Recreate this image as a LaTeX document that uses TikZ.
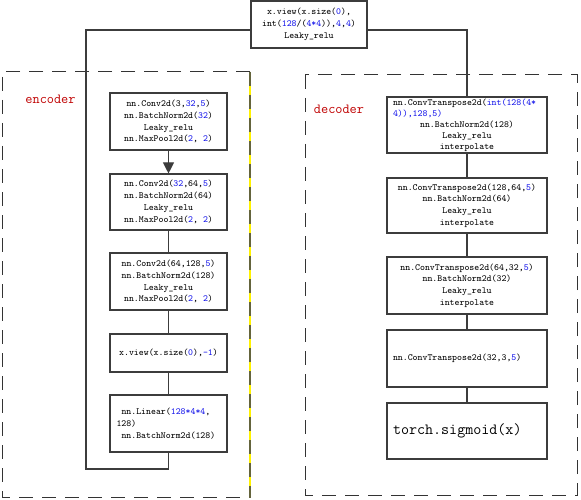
\documentclass[tikz,border=0pt]{standalone}
\usepackage{fontspec}
\usetikzlibrary{arrows.meta}
\definecolor{numblue}{RGB}{20,20,235}
\definecolor{labred}{RGB}{192,0,0}
\definecolor{edge}{RGB}{60,60,60}
\definecolor{dashol}{RGB}{100,100,60}
\newcommand\bn[1]{\textcolor{numblue}{#1}}
\begin{document}
\begin{tikzpicture}[x=1pt,y=-1pt,
  box/.style={draw=edge, line width=1.1pt, fill=white, inner sep=0pt, align=center,
    font=\ttfamily\fontsize{9.4}{11.8}\selectfont, minimum width=117pt},
  dbox/.style={box, minimum width=160pt},
  conn/.style={draw=edge, line width=1.1pt},
  dashline/.style={draw=black!80, line width=1pt, dash pattern=on 14pt off 9pt},
  lab/.style={text=labred, font=\ttfamily\fontsize{13.9}{16}\selectfont, inner sep=0pt}]
\useasboundingbox (0,0) rectangle (581,500);
\fill[white] (0,0) rectangle (581,500);

% group frames
\draw[dashline] (250,72) -- (2,72) -- (2,497) -- (250,497);
\draw[yellow, line width=1.2pt] (250,72) -- (250,498);
\draw[dashol, line width=1.2pt, dash pattern=on 14pt off 9pt] (250,72) -- (250,498);
\draw[dashline] (305,75) rectangle (577,495);

\node[lab] (enc) at (50.5,99) {encoder};
\node[lab] (dec) at (339,109) {decoder};

% connector coordinates
\coordinate (tl) at (251,30);
\coordinate (tr) at (367,30);
\coordinate (bl) at (86,469);

% top node
\node[box, minimum width=116pt, minimum height=47pt] (top) at (309,24.5)
  {x.view(x.size(\bn{0}),\\ int(\bn{128}/(\bn{4*4})),\bn{4},\bn{4})\\ Leaky\_relu};

% encoder
\node[box, minimum height=57pt] (e1) at (168.5,121.5)
  {nn.Conv2d(3,\bn{32},\bn{5})\\ nn.BatchNorm2d(\bn{32})\\ Leaky\_relu\\ nn.MaxPool2d(\bn{2},\ \bn{2})};
\node[box, minimum height=56pt] (e2) at (168.5,202)
  {nn.Conv2d(\bn{32},64,\bn{5})\\ nn.BatchNorm2d(64)\\ Leaky\_relu\\ nn.MaxPool2d(\bn{2},\ \bn{2})};
\node[box, minimum height=57pt] (e3) at (168.5,281.5)
  {nn.Conv2d(64,128,\bn{5})\\ nn.BatchNorm2d(128)\\ Leaky\_relu\\ nn.MaxPool2d(\bn{2},\ \bn{2})};
\node[box, minimum height=38pt] (e4) at (168.5,353)
  {x.view(x.size(\bn{0}),\bn{-1})};
\node[box, minimum height=57pt] (e5) at (168.5,423.5)
  {\makebox[104pt][l]{\hspace{5pt}nn.Linear(\bn{128*4*4},}\\
   \makebox[104pt][l]{128)}\\
   \makebox[104pt][l]{\hspace{5pt}nn.BatchNorm2d(128)}};

% decoder
\node[dbox, minimum height=56pt, font=\ttfamily\fontsize{9.4}{11}\selectfont] (d1) at (467,125)
  {\makebox[148pt][l]{nn.ConvTranspose2d(\bn{int(128(4*}}\\
   \makebox[148pt][l]{\bn{4)),128,5)}}\\
   nn.BatchNorm2d(128)\\ Leaky\_relu\\ interpolate};
\node[dbox, minimum height=55pt] (d2) at (467,205.5)
  {nn.ConvTranspose2d(128,64,\bn{5})\\ nn.BatchNorm2d(64)\\ Leaky\_relu\\ interpolate};
\node[dbox, minimum height=57pt] (d3) at (467,285.5)
  {nn.ConvTranspose2d(64,32,\bn{5})\\ nn.BatchNorm2d(32)\\ Leaky\_relu\\ interpolate};
\node[dbox, minimum height=57pt] (d4) at (467,358.5)
  {\makebox[148pt][l]{nn.ConvTranspose2d(32,3,\bn{5})}};
\node[dbox, minimum height=56pt, font=\ttfamily\fontsize{15.6}{18}\selectfont] (d5) at (467,431)
  {\makebox[148pt][l]{torch.sigmoid(x)}};

% connectors
\draw[conn, -{Triangle[length=11pt,width=11pt]}] (e1.south) -- (e2.north);
\draw[conn] (e2.south) -- (e3.north);
\draw[conn] (e3.south) -- (e4.north);
\draw[conn] (e4.south) -- (e5.north);
\draw[conn] (e5.south) |- (bl) |- (tl);
\draw[conn] (tr) -| (d1.north);
\draw[conn] (d1.south) -- (d2.north);
\draw[conn] (d2.south) -- (d3.north);
\draw[conn] (d3.south) -- (d4.north);
\draw[conn] (d4.south) -- (d5.north);
\end{tikzpicture}
\end{document}
